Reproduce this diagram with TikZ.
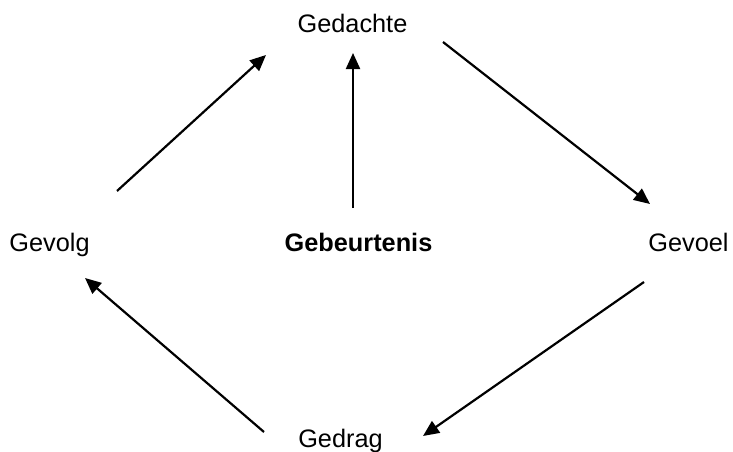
\documentclass[tikz,border=0pt]{standalone}
\usepackage{fontspec}
\setmainfont{Liberation Sans}
\usetikzlibrary{arrows.meta}
\begin{document}
\begin{tikzpicture}[x=1pt,y=-1pt,
  label/.style={inner sep=0pt,anchor=base,font=\fontsize{25.3pt}{30pt}\selectfont},
  flow/.style={line width=2.2pt,-{Triangle[length=16pt,width=14pt]}}]
\useasboundingbox (0,0) rectangle (733,452);

% the five words
\node[label] (gedachte) at (352.5,33) {Gedachte};
\node[label] (gevolg) at (49.5,251) {Gevolg};
\node[label,font=\fontsize{25.3pt}{30pt}\selectfont\bfseries] (gebeurtenis) at (358.5,251) {Gebeurtenis};
\node[label] (gevoel) at (688.5,251) {Gevoel};
\node[label] (gedrag) at (340.5,447) {Gedrag};

% arrow ends
\coordinate (gevolg-out) at (117,191);
\coordinate (gedachte-in1) at (266,55);
\coordinate (gebeurtenis-out) at (353,208);
\coordinate (gedachte-in2) at (353,53);
\coordinate (gedachte-out) at (443,42);
\coordinate (gevoel-in) at (650,204);
\coordinate (gevoel-out) at (644,282);
\coordinate (gedrag-in) at (423,436);
\coordinate (gedrag-out) at (264,432);
\coordinate (gevolg-in) at (85,278);

% the cycle and the central event
\draw[flow] (gevolg-out) -- (gedachte-in1);
\draw[flow] (gebeurtenis-out) -- (gedachte-in2);
\draw[flow] (gedachte-out) -- (gevoel-in);
\draw[flow] (gevoel-out) -- (gedrag-in);
\draw[flow] (gedrag-out) -- (gevolg-in);
\end{tikzpicture}
\end{document}
